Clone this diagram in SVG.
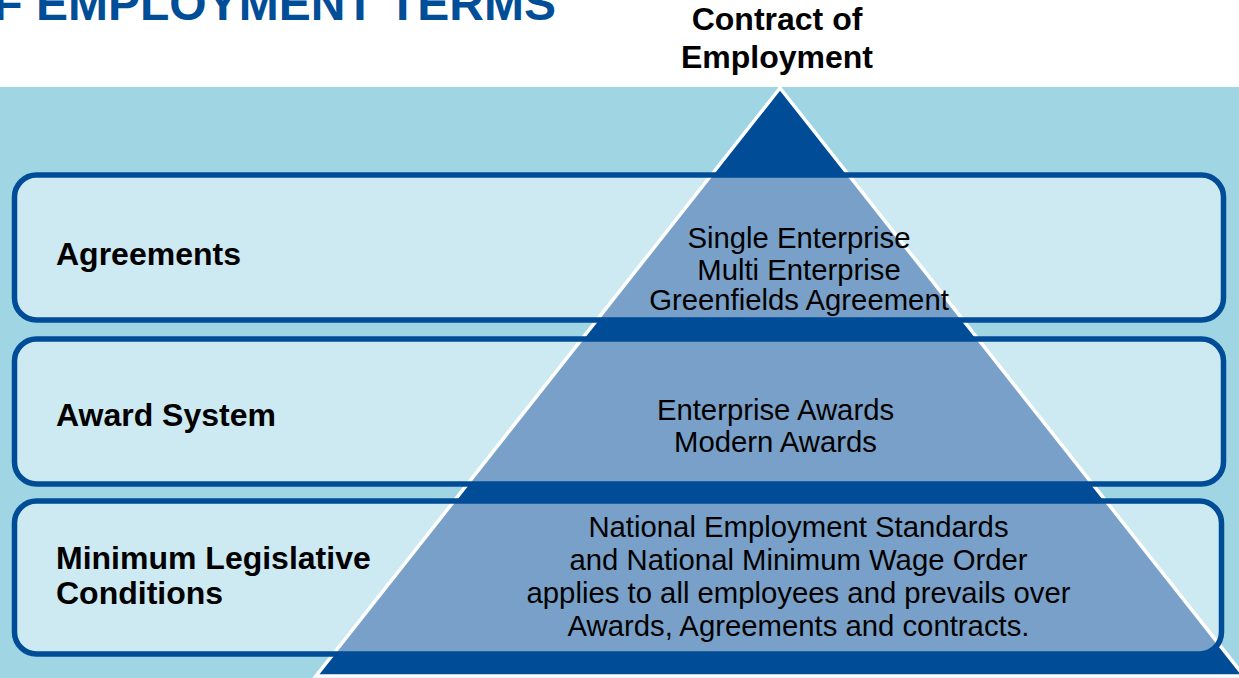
<svg xmlns="http://www.w3.org/2000/svg" width="1239" height="678" viewBox="0 0 1239 678">
  <style>
    .title { font-family: "Liberation Sans", Arial, sans-serif; font-weight: bold; font-size: 48px; fill: #004e98; }
    .head { font-family: "Liberation Sans", Arial, sans-serif; font-weight: bold; font-size: 32px; fill: #000; text-anchor: middle; }
    .label { font-family: "Liberation Sans", Arial, sans-serif; font-weight: bold; font-size: 32px; fill: #000; }
    .body { font-family: "Liberation Sans", Arial, sans-serif; font-size: 29.3px; fill: #000; text-anchor: middle; }
    .band { fill: #ffffff; fill-opacity: 0.47; stroke: #004c97; stroke-width: 5.5; }
  </style>

  <!-- page -->
  <rect x="0" y="0" width="1239" height="678" fill="#ffffff"/>
  <rect x="0" y="87" width="1239" height="591" fill="#a0d6e4"/>

  <text class="title" x="556" y="20" text-anchor="end">F EMPLOYMENT TERMS</text>

  <g id="apex-label">
    <text class="head" x="777" y="30">Contract of</text>
    <text class="head" x="777" y="68">Employment</text>
  </g>

  <!-- pyramid -->
  <g id="pyramid">
    <polygon points="780,88 316,676 1244,676" fill="#004c97" stroke="#ffffff" stroke-width="3.5" stroke-linejoin="miter"/>
  </g>

  <!-- tiers -->
  <g id="agreements">
    <rect class="band" x="14.5" y="175" width="1209" height="145" rx="22"/>
    <text class="label" x="56" y="265">Agreements</text>
    <text class="body" x="799" y="248">Single Enterprise</text>
    <text class="body" x="799" y="280">Multi Enterprise</text>
    <text class="body" x="799" y="310">Greenfields Agreement</text>
  </g>

  <g id="award-system">
    <rect class="band" x="14.5" y="339" width="1209" height="145" rx="22"/>
    <text class="label" x="56" y="426">Award System</text>
    <text class="body" x="775.5" y="420">Enterprise Awards</text>
    <text class="body" x="775.5" y="452">Modern Awards</text>
  </g>

  <g id="minimum-conditions">
    <rect class="band" x="14.5" y="501" width="1207" height="153" rx="22"/>
    <text class="label" x="56" y="569">Minimum Legislative</text>
    <text class="label" x="56" y="604">Conditions</text>
    <text class="body" x="798.5" y="537">National Employment Standards</text>
    <text class="body" x="798.5" y="570">and National Minimum Wage Order</text>
    <text class="body" x="798.5" y="603">applies to all employees and prevails over</text>
    <text class="body" x="798.5" y="636">Awards, Agreements and contracts.</text>
  </g>

  <g id="connectors"/>
</svg>
